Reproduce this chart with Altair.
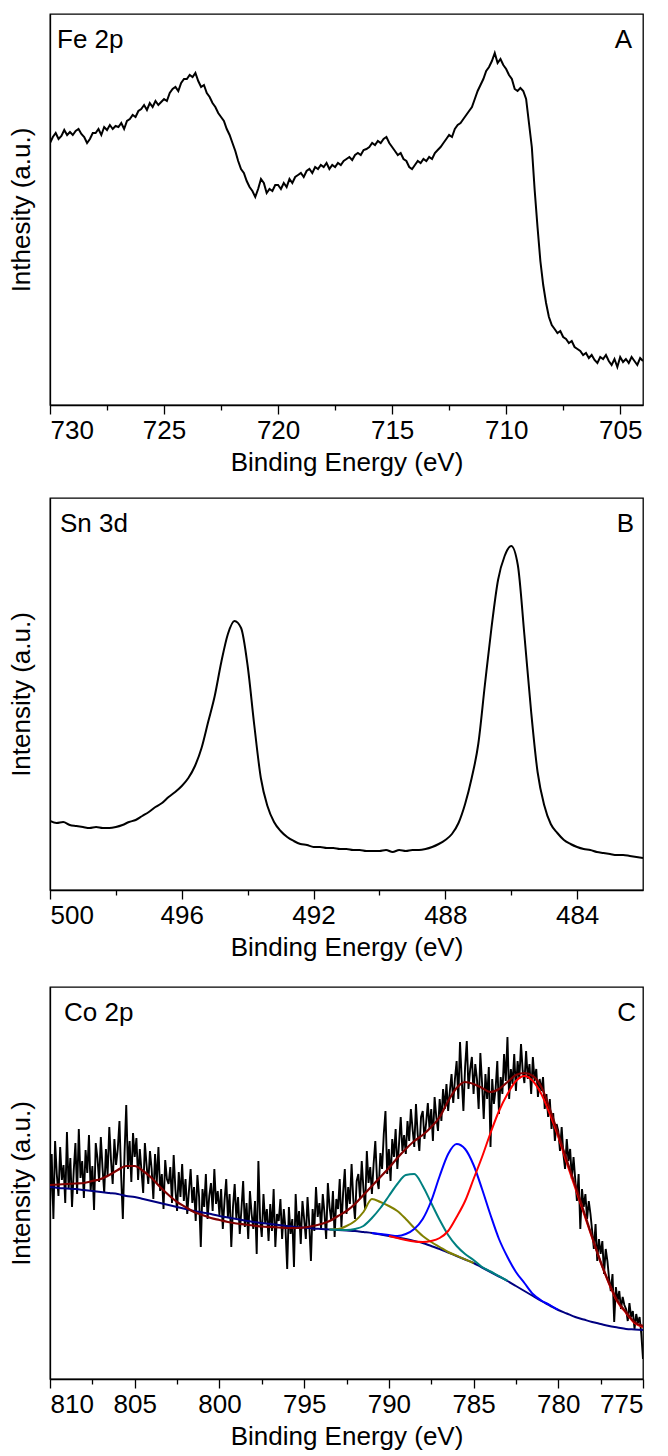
import altair as alt
import pandas as pd

FONT = "Liberation Sans"

# ---------------- Panel A: Fe 2p (binding energy grid 730 -> 704, step 0.125 eV)
FE_START, FE_STEP = 730.0, -0.125
FE_INTENSITY = [
    262, 268, 272, 266, 269, 275, 270, 273,
    270, 274, 276, 271, 268, 262, 266, 272,
    272, 276, 270, 278, 275, 280, 276, 279,
    278, 282, 276, 284, 286, 290, 288, 294,
    296, 300, 295, 302, 298, 304, 300, 303,
    306, 304, 312, 316, 318, 314, 322, 326,
    326, 330, 328, 332, 324, 318, 320, 312,
    308, 302, 298, 292, 288, 284, 276, 270,
    262, 254, 244, 236, 232, 224, 218, 214,
    208, 216, 226, 222, 212, 216, 214, 220,
    220, 216, 222, 218, 226, 222, 228, 230,
    232, 228, 234, 236, 232, 238, 236, 240,
    238, 242, 236, 240, 238, 242, 240, 244,
    246, 248, 245, 250, 252, 250, 255, 256,
    258, 262, 260, 264, 262, 266, 268, 262,
    258, 254, 250, 252, 246, 244, 238, 236,
    240, 244, 242, 246, 244, 248, 246, 252,
    255, 258, 262, 266, 270, 268, 276, 280,
    282, 286, 290, 294, 298, 306, 314, 320,
    326, 334, 338, 344, 352, 342, 346, 340,
    336, 330, 326, 316, 314, 317, 314, 306,
    282, 258, 215, 178, 144, 120, 102, 88,
    80, 76, 72, 74, 68, 66, 62, 64,
    58, 56, 54, 50, 52, 47, 50, 45,
    42, 48, 46, 50, 44, 40, 46, 38,
    48, 43, 46, 42, 48, 44, 40, 47,
    44,
]
FE_TICKS = [730, 727.5, 725, 722.5, 720, 717.5, 715, 712.5, 710, 707.5, 705]

# ---------------- Panel B: Sn 3d (500 -> 482, step 0.2 eV)
SN_START, SN_STEP = 500.0, -0.2
SN_INTENSITY = [
    69, 67, 68, 65, 64,
    63, 62, 63, 62, 62,
    63, 65, 68, 70, 74,
    78, 83, 87, 93, 98,
    104, 112, 124, 142, 168,
    194, 228, 256, 269, 262,
    224, 165, 112, 84, 68,
    59, 53, 49, 46, 45,
    43, 43, 42, 42, 41,
    41, 40, 40, 39, 39,
    39, 40, 38, 40, 39,
    40, 40, 41, 43, 46,
    50, 56, 67, 86, 112,
    146, 205, 262, 310, 334,
    344, 325, 255, 180, 118,
    85, 66, 57, 50, 46,
    43, 41, 40, 38, 37,
    36, 35, 35, 34, 33,
    32,
]
SN_TICKS = [500, 498, 496, 494, 492, 490, 488, 486, 484]

# ---------------- Panel C: Co 2p (810 -> 775)
CO_START, CO_STEP = 810.0, -0.1
CO_RAW = [
    170, 225, 160, 238, 205, 183, 232, 199, 214, 176,
    247, 190, 221, 172, 208, 236, 185, 250, 201, 218,
    181, 229, 206, 244, 188, 213, 169, 236, 221, 197,
    242, 211, 186, 230, 204, 252, 219, 195, 240, 214,
    230, 258, 203, 160, 226, 274, 210, 238, 197, 246,
    222, 241, 199, 230, 208, 186, 236, 214, 195, 228,
    210, 180, 225, 196, 232, 188, 205, 170, 219, 200,
    195, 212, 176, 224, 190, 168, 207, 182, 215, 178,
    200, 165, 188, 210, 176, 192, 158, 204, 182, 132,
    190, 172, 205, 160, 183, 196, 168, 210, 175, 188,
    164, 190, 150, 178, 200, 162, 185, 132, 172, 195,
    160, 182, 145, 170, 198, 152, 176, 140, 188, 165,
    150, 178, 125, 218, 160, 142, 185, 156, 170, 138,
    175, 148, 190, 132, 165, 158, 180, 140, 170, 150,
    110, 172, 145, 160, 112, 185, 150, 168, 135, 178,
    160, 140, 182, 155, 118, 170, 148, 192, 162, 176,
    150, 185, 166, 140, 196, 172, 158, 188, 142, 180,
    170, 200, 152, 186, 210, 165, 192, 175, 215, 180,
    160, 198, 205, 180, 218, 190, 170, 228, 196, 212,
    185, 215, 238, 200, 190, 226, 210, 245, 268, 205,
    230, 198, 240, 222, 250, 210, 235, 262, 228, 244,
    225, 258, 238, 270, 250, 232, 275, 245, 228, 262,
    268, 240, 256, 276, 250, 270, 238, 282, 262, 248,
    280, 258, 290, 270, 295, 268, 288, 305, 276, 300,
    318, 280, 337, 300, 268, 312, 338, 290, 310, 322,
    285, 315, 300, 270, 326, 296, 260, 305, 280, 312,
    232, 300, 275, 290, 318, 265, 302, 285, 325, 298,
    342, 280, 310, 295, 325, 288, 318, 300, 335, 308,
    296, 328, 300, 315, 285, 322, 298, 310, 282, 300,
    288, 302, 270, 285, 262, 280, 250, 266, 238, 255,
    248, 228, 252, 225, 210, 240, 218, 230, 200, 222,
    200, 178, 205, 150, 190, 172, 185, 160, 178, 165,
    148, 130, 155, 118, 140, 125, 138, 105, 130, 118,
    100, 88, 105, 57, 92, 78, 88, 70, 82, 74,
    70, 58, 76, 62, 68, 50, 65, 56, 62, 45,
    20,
]
FIT_STEP = -0.5
CO_BG_START = 810.0
CO_BACKGROUND = [
    192, 191, 190.5, 190, 189, 188, 187, 186, 185, 183,
    182, 180, 178, 176, 174, 172, 170, 168, 166.5, 165,
    163, 161.5, 160, 158.5, 157, 156, 155, 154, 153, 152,
    151.5, 150.5, 150, 149.5, 149, 148.5, 148, 147, 146, 144.5,
    143, 141.5, 140, 138, 136, 133, 130, 126.5, 123, 119.5,
    116, 111.5, 107, 102.5, 98, 93, 88, 83, 78, 73.5,
    69, 65.5, 62, 59.5, 57, 55, 53, 51.5, 50, 49.5,
    49,
]
CO_ENVELOPE = [
    194, 194.5, 195, 195.5, 196, 198, 200, 204, 209, 213,
    213, 208, 201, 192, 184, 177, 172, 167, 164, 161,
    159, 157, 155.5, 154.5, 153.5, 152.5, 152, 151.5, 151, 151,
    151.5, 153, 155, 158, 163, 168, 175, 184, 193, 202,
    211, 221, 230, 238, 244, 252, 262, 278, 291, 297,
    295, 291, 287, 290, 297, 304, 306, 303, 292, 270,
    245, 219, 194, 168, 142, 117, 96, 78, 67, 57,
    53,
]
CO_OLIVE_START = 793.5
CO_OLIVE = [149.6, 150, 153, 158, 167, 180, 177, 173, 168, 160,
            151, 143, 137, 132, 127, 123.3, 119.6, 116]
CO_TEAL_START = 793.5
CO_TEAL = [149.6, 149.2, 149, 150, 153, 161, 171, 183, 195, 204,
           205, 193, 176, 159, 144, 133, 125, 119, 112, 107.5,
           102.8, 98.2]
CO_BLUE_START = 791.0
CO_BLUE = [146, 145, 144, 143, 145, 150, 160, 178, 203, 225,
           235, 230, 214, 190, 164, 140, 122, 107, 96, 85,
           78.5, 74, 69]
CO_RED_START = 790.0
CO_RED = [143, 141, 139, 137.5, 137, 138, 141, 148, 162, 178,
          200, 222, 246, 268, 285, 298, 303, 298, 285, 265,
          242, 216, 191, 166, 141, 117, 95, 77, 66, 56,
          52]
CO_TICKS = [810, 807.5, 805, 802.5, 800, 797.5, 795, 792.5, 790, 787.5,
            785, 782.5, 780, 777.5, 775]


def series(start, step, values):
    return pd.DataFrame({"E": [round(start + step * i, 3) for i in range(len(values))],
                         "I": values})


W = 593


def x_enc(lo, hi, ticks, mod):
    test = f"abs(datum.value % {mod}) < 0.001"
    return alt.X(
        "E:Q",
        scale=alt.Scale(domain=[lo, hi], reverse=True, nice=False, zero=False),
        axis=alt.Axis(
            values=ticks,
            format="d",
            title="Binding Energy (eV)",
            labelExpr=f"{test} ? datum.label : ''",
            tickSize={"condition": {"test": test, "value": 9}, "value": 5},
            labelPadding=3,
            titlePadding=6,
        ),
    )


def y_enc(h, title):
    return alt.Y(
        "I:Q",
        scale=alt.Scale(domain=[0, h], nice=False, zero=False),
        axis=alt.Axis(title=title, labels=False, ticks=False, titlePadding=16),
    )


def line(df, xe, ye, color, width, interp="linear"):
    return alt.Chart(df).mark_line(color=color, strokeWidth=width, interpolate=interp,
                                   clip=True).encode(x=xe, y=ye)


def labels(left_text, right_text, lx, rx):
    lt = alt.Chart(pd.DataFrame({"t": [left_text]})).mark_text(
        align="left", baseline="alphabetic", font=FONT, fontSize=26, color="black"
    ).encode(x=alt.value(lx), y=alt.value(34), text="t:N")
    rt = alt.Chart(pd.DataFrame({"t": [right_text]})).mark_text(
        align="right", baseline="alphabetic", font=FONT, fontSize=26, color="black"
    ).encode(x=alt.value(W - rx), y=alt.value(34), text="t:N")
    return [lt, rt]


# Panel A
HA = 391
xa = x_enc(704, 730, FE_TICKS, 5)
ya = y_enc(HA, "Inthesity (a.u.)")
panel_a = alt.layer(
    line(series(FE_START, FE_STEP, FE_INTENSITY), xa, ya, "black", 2),
    *labels("Fe 2p", "A", 7, 11),
).properties(width=W, height=HA)

# Panel B
HB = 392
xb = x_enc(482, 500, SN_TICKS, 4)
yb = y_enc(HB, "Intensity (a.u.)")
panel_b = alt.layer(
    line(series(SN_START, SN_STEP, SN_INTENSITY), xb, yb, "black", 2, "monotone"),
    *labels("Sn 3d", "B", 10, 9),
).properties(width=W, height=HB)

# Panel C
HC = 392
xc = x_enc(775, 810, CO_TICKS, 5)
yc = y_enc(HC, "Intensity (a.u.)")
panel_c = alt.layer(
    line(series(CO_START, CO_STEP, CO_RAW), xc, yc, "black", 1.9),
    line(series(CO_BG_START, FIT_STEP, CO_BACKGROUND), xc, yc, "#000080", 2, "monotone"),
    line(series(CO_OLIVE_START, FIT_STEP, CO_OLIVE), xc, yc, "#808000", 2, "monotone"),
    line(series(CO_TEAL_START, FIT_STEP, CO_TEAL), xc, yc, "#008080", 2, "monotone"),
    line(series(CO_BLUE_START, FIT_STEP, CO_BLUE), xc, yc, "#0000FF", 2, "monotone"),
    line(series(CO_RED_START, FIT_STEP, CO_RED), xc, yc, "#FF0000", 2, "monotone"),
    line(series(CO_BG_START, FIT_STEP, CO_ENVELOPE), xc, yc, "#800000", 2.2, "monotone"),
    *labels("Co 2p", "C", 14, 7),
).properties(width=W, height=HC)

chart = alt.vconcat(
    panel_a,
    alt.vconcat(panel_b, panel_c, spacing=97, bounds="flush"),
    spacing=93,
    bounds="flush",
).properties(
    padding={"left": 7, "top": 13, "right": 5, "bottom": 5},
    background="white",
).configure_view(
    stroke="black", strokeWidth=1.3
).configure_axis(
    labelFont=FONT, labelFontSize=26, labelColor="black",
    titleFont=FONT, titleFontSize=26, titleFontWeight="normal", titleColor="black",
    tickColor="black", tickWidth=1.3, domainColor="black", domainWidth=1.3,
    grid=False,
)

chart.save("out.html", embed_options={"renderer": "svg", "actions": False})
